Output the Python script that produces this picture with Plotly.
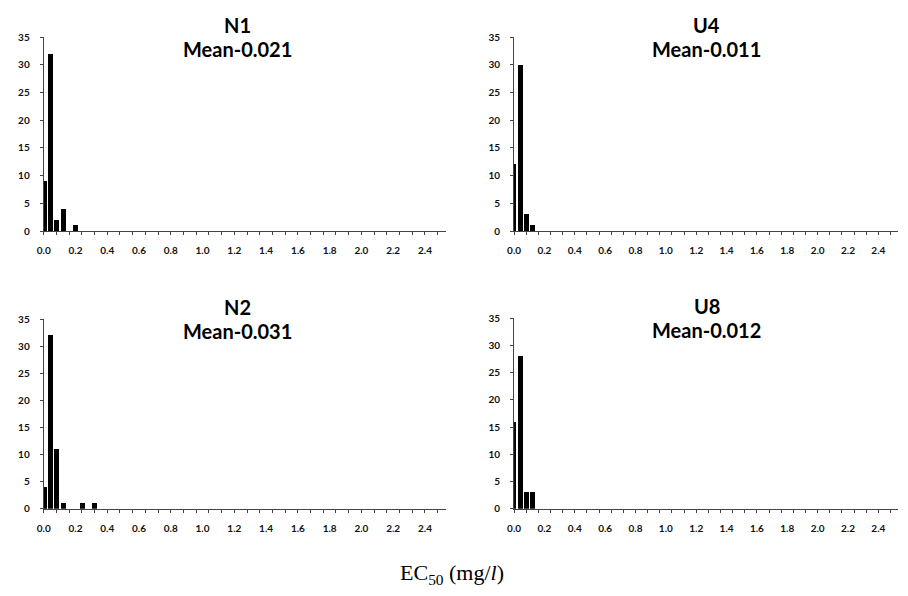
import plotly.graph_objects as go

W, H = 908, 596

# ---- data ----
bin_centers = [0.00, 0.04, 0.08, 0.12, 0.16, 0.20, 0.24, 0.28, 0.32]
counts_N1 = [9, 32, 2, 4, 0, 1, 0, 0, 0]
counts_U4 = [12, 30, 3, 1, 0, 0, 0, 0, 0]
counts_N2 = [4, 32, 11, 1, 0, 0, 1, 0, 1]
counts_U8 = [16, 28, 3, 3, 0, 0, 0, 0, 0]
panel_names = ["N1", "U4", "N2", "U8"]
panel_means = ["Mean-0.021", "Mean-0.011", "Mean-0.031", "Mean-0.012"]
x_tick_vals = [0.0, 0.2, 0.4, 0.6, 0.8, 1.0, 1.2, 1.4, 1.6, 1.8, 2.0, 2.2, 2.4]
x_tick_text = ["0.0", "0.2", "0.4", "0.6", "0.8", "1.0", "1.2", "1.4", "1.6", "1.8", "2.0", "2.2", "2.4"]
y_tick_vals = [0, 5, 10, 15, 20, 25, 30, 35]
x_title = "EC<sub>50</sub> (mg/<i>l</i>)"

series = [counts_N1, counts_U4, counts_N2, counts_U8]

# pixel boxes: (left, right, top, bottom)
boxes = [(37, 442, 30.7, 229), (511, 898, 30.7, 229),
         (37, 442, 319, 513), (511, 898, 318, 513)]

fig = go.Figure()
tickfont = dict(family="Lato", size=10, color="#111", weight="bold")

for i, (vals, box) in enumerate(zip(series, boxes)):
    n = i + 1
    xa = "x" if n == 1 else f"x{n}"
    ya = "y" if n == 1 else f"y{n}"
    fig.add_trace(go.Bar(x=bin_centers, y=vals, width=0.032,
                         marker=dict(color="#000", line=dict(width=0)),
                         xaxis=xa, yaxis=ya, showlegend=False))
    l, r, t, b = box
    xkey = "xaxis" if n == 1 else f"xaxis{n}"
    ykey = "yaxis" if n == 1 else f"yaxis{n}"
    fig.update_layout(**{
        xkey: dict(domain=[l / W, r / W], anchor=ya, range=[0, 2.53],
                   tickvals=x_tick_vals, ticktext=x_tick_text,
                   ticks="", showline=True, linecolor="#444", linewidth=1,
                   showgrid=False, zeroline=False, tickfont=tickfont,
                   ticklabelstandoff=10,
                   minor=dict(ticks="outside", ticklen=3, tickcolor="#444",
                              dtick=0.08, tick0=0, showgrid=False)),
        ykey: dict(domain=[1 - b / H, 1 - t / H], anchor=xa, range=[0, 35],
                   tickvals=y_tick_vals, ticks="outside", ticklen=3,
                   tickcolor="#444", showline=True, linecolor="#444",
                   linewidth=1, showgrid=False, zeroline=False,
                   tickfont=tickfont, ticklabelstandoff=8),
    })
    cx = (232 if n in (1, 3) else 705) / W
    fig.add_annotation(x=cx, y=1 - (t - 12) / H, xref="paper", yref="paper",
                       text=panel_names[i], showarrow=False,
                       font=dict(family="Lato", size=20, color="#000", weight="bold"),
                       xanchor="center", yanchor="middle")
    fig.add_annotation(x=cx, y=1 - (t + 12) / H, xref="paper", yref="paper",
                       text=panel_means[i], showarrow=False,
                       font=dict(family="Lato", size=20, color="#000", weight="bold"),
                       xanchor="center", yanchor="middle")

fig.add_annotation(x=448 / W, y=1 - 580 / H, xref="paper", yref="paper",
                   text=x_title, showarrow=False,
                   font=dict(family="Liberation Serif", size=22, color="#000"),
                   xanchor="center", yanchor="middle")

fig.update_layout(width=W, height=H, margin=dict(l=0, r=0, t=0, b=0),
                  paper_bgcolor="white", plot_bgcolor="white", bargap=0)

fig.write_html("out.html")
